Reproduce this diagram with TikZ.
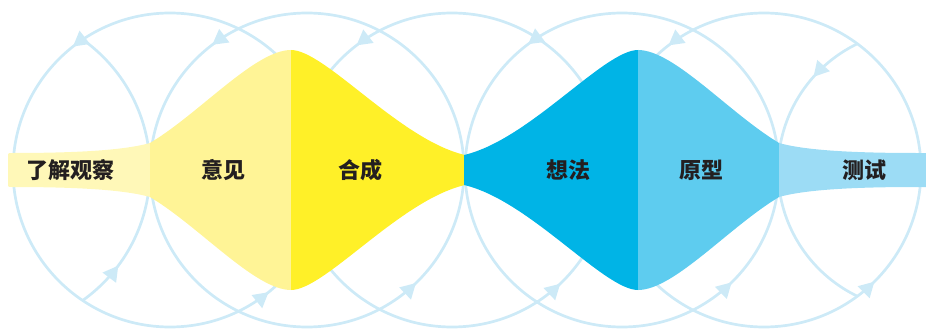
\documentclass[tikz,border=0pt]{standalone}
\usepackage{fontspec}
\newfontfamily\cjk{Noto Sans CJK SC}
\usetikzlibrary{arrows.meta,decorations.markings}
\definecolor{ring}{RGB}{205,234,247}
\definecolor{ya}{RGB}{255,248,184}
\definecolor{yb}{RGB}{255,244,150}
\definecolor{yc}{RGB}{255,240,40}
\definecolor{ba}{RGB}{0,180,230}
\definecolor{bb}{RGB}{94,204,239}
\definecolor{bc}{RGB}{156,220,245}
\definecolor{txt}{RGB}{35,31,32}
\tikzset{
  ringline/.style={draw=ring, line width=2.7pt},
  tipmark/.style={postaction={decorate}, decoration={markings,
     mark=at position #1 with {\arrow{Triangle[length=15pt,width=17pt,line width=0pt,color=ring]}}}},
  twotips/.style 2 args={postaction={decorate}, decoration={markings,
     mark=at position #1 with {\arrow{Triangle[length=15pt,width=17pt,line width=0pt,color=ring]}},
     mark=at position #2 with {\arrow{Triangle[length=15pt,width=17pt,line width=0pt,color=ring]}}}},
  lbl/.style={font=\cjk\bfseries\fontsize{22}{22}\selectfont, text=txt, inner sep=0pt},
}
\def\yshape{(8,157) .. controls (8,153) .. (12,153) .. controls (80,153) and (125,150) .. (150,143)
  .. controls (200,113) and (255,50) .. (291,50) .. controls (325,50) and (400,140) .. (465,155)
  -- (465,185) .. controls (400,200) and (325,290) .. (291,290) .. controls (255,290) and (200,227) .. (150,197)
  .. controls (125,190) and (80,187) .. (12,187) .. controls (8,187) .. (8,183) -- cycle}
\def\bshape{(930,153) -- (917,153) .. controls (849,153) and (804,150) .. (779,143)
  .. controls (729,113) and (674,50) .. (638,50) .. controls (604,50) and (529,140) .. (464,155)
  -- (464,185) .. controls (529,200) and (604,290) .. (638,290) .. controls (674,290) and (729,227) .. (779,197)
  .. controls (804,190) and (849,187) .. (917,187) -- (930,187) -- cycle}
\begin{document}
\begin{tikzpicture}[x=1pt,y=-1pt]
\useasboundingbox (0,0) rectangle (926,329);
\clip (0,0) rectangle (926,329);
% circles
\coordinate (c0) at (-10,170);
\coordinate (c1) at (170,170);
\coordinate (c2) at (307,170);
\coordinate (c3) at (452,170);
\coordinate (c4) at (622,170);
\coordinate (c5) at (764,170);
\coordinate (c6) at (918,170);
\draw[ringline, twotips={0.356}{0.858}] (c1) circle[radius=157pt];
\draw[ringline, twotips={0.353}{0.872}] (c2) circle[radius=157pt];
\draw[ringline, twotips={0.354}{0.871}] (c3) circle[radius=157pt];
\draw[ringline, twotips={0.352}{0.873}] (c4) circle[radius=157pt];
\draw[ringline, twotips={0.354}{0.874}] (c5) circle[radius=157pt];
\begin{scope}
  \clip (c1) circle[radius=157pt];
  \draw[ringline, tipmark={0.898}] (c0) circle[radius=160pt];
\end{scope}
\begin{scope}
  \clip (c5) circle[radius=157pt];
  \draw[ringline, tipmark={0.384}] (c6) circle[radius=140pt];
\end{scope}
% shapes
\begin{scope}\clip (0,0) rectangle (150,329); \fill[ya] \yshape; \end{scope}
\begin{scope}\clip (150,0) rectangle (291,329); \fill[yb] \yshape; \end{scope}
\begin{scope}\clip (291,0) rectangle (466,329); \fill[yc] \yshape; \end{scope}
\begin{scope}\clip (463,0) rectangle (638,329); \fill[ba] \bshape; \end{scope}
\begin{scope}\clip (638,0) rectangle (779,329); \fill[bb] \bshape; \end{scope}
\begin{scope}\clip (779,0) rectangle (930,329); \fill[bc] \bshape; \end{scope}
% labels
\node[lbl] (n1) at (71,170) {了解观察};
\node[lbl] (n2) at (223,170) {意见};
\node[lbl] (n3) at (360,170) {合成};
\node[lbl] (n4) at (568,170) {想法};
\node[lbl] (n5) at (701,170) {原型};
\node[lbl] (n6) at (864,170) {测试};
\end{tikzpicture}
\end{document}
